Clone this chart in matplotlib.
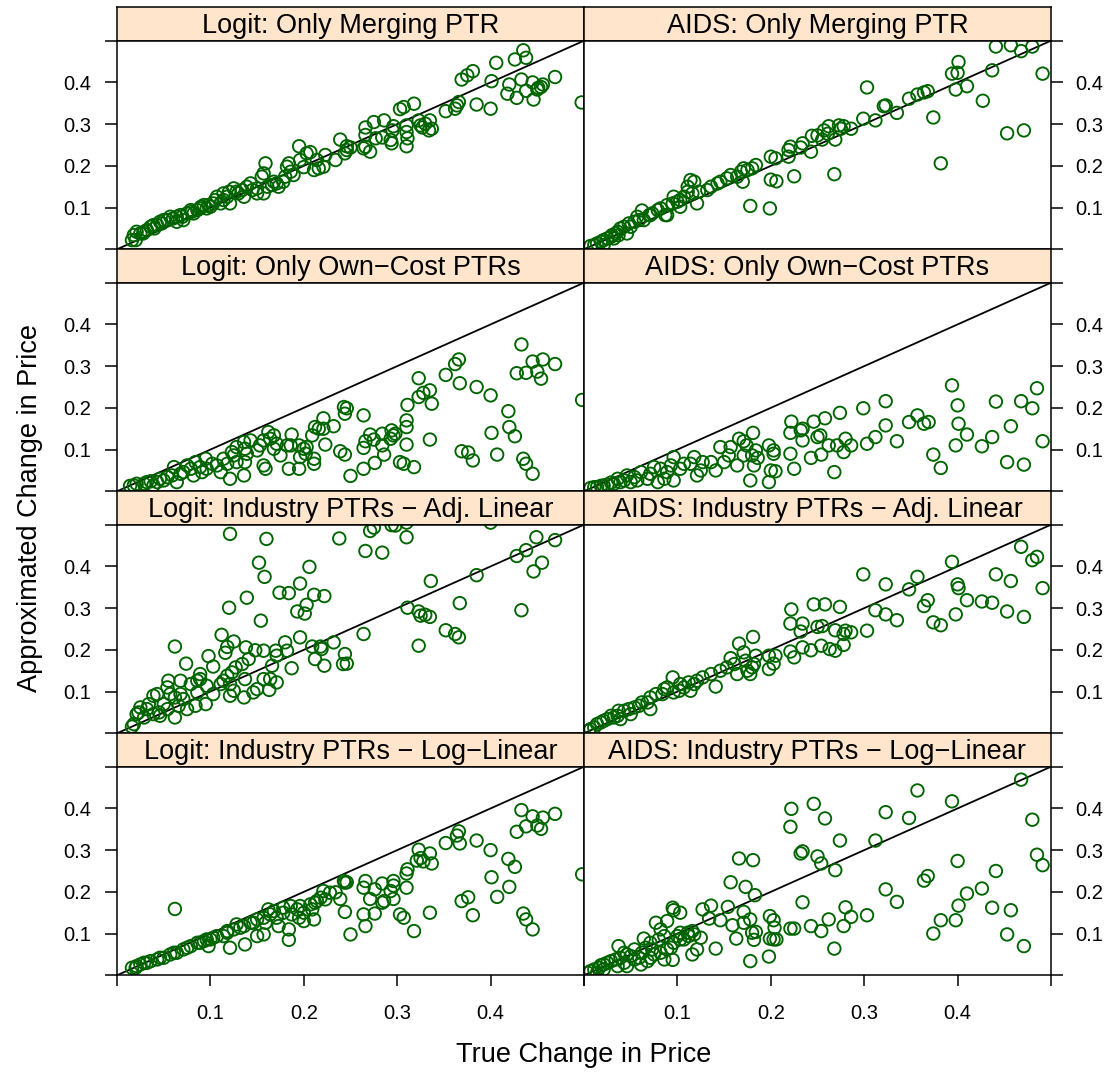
import matplotlib
matplotlib.use("Agg")
import matplotlib.pyplot as plt

plt.rcParams['font.family'] = ['Liberation Sans', 'DejaVu Sans']

# ---------------- data: (true change, approximated change) ----------------
logit_merging = [
    (0.435,0.477),(0.438,0.459),(0.426,0.455),(0.406,0.447),(0.381,0.427),(0.375,0.417),(0.369,0.407),
    (0.401,0.403),(0.469,0.413),(0.433,0.407),(0.420,0.395),(0.445,0.400),(0.456,0.395),(0.451,0.387),
    (0.454,0.389),(0.418,0.373),(0.428,0.363),(0.438,0.380),(0.446,0.359),(0.450,0.383),(0.4975,0.352),
    (0.385,0.347),(0.400,0.337),(0.366,0.353),(0.364,0.345),(0.362,0.337),(0.352,0.331),(0.318,0.349),
    (0.307,0.341),(0.303,0.336),(0.323,0.309),(0.325,0.297),(0.327,0.292),(0.335,0.309),(0.337,0.289),
    (0.330,0.301),(0.334,0.285),(0.310,0.297),(0.310,0.281),(0.311,0.266),(0.310,0.247),(0.296,0.295),
    (0.295,0.285),(0.293,0.262),(0.294,0.254),(0.286,0.309),(0.275,0.305),(0.266,0.292),(0.266,0.274),
    (0.277,0.266),(0.284,0.268),(0.264,0.242),(0.271,0.234),(0.266,0.246),(0.239,0.263),(0.246,0.247),
    (0.250,0.244),(0.244,0.230),(0.246,0.238),(0.234,0.214),(0.223,0.226),(0.214,0.214),(0.216,0.194),
    (0.221,0.198),(0.211,0.190),(0.203,0.230),(0.195,0.247),(0.207,0.233),(0.200,0.197),(0.196,0.214),
    (0.184,0.206),(0.182,0.198),(0.186,0.186),(0.189,0.178),(0.180,0.174),(0.159,0.206),(0.157,0.182),
    (0.155,0.174),(0.178,0.162),(0.171,0.158),(0.166,0.154),(0.161,0.150),(0.150,0.146),(0.143,0.158),
    (0.139,0.150),(0.134,0.142),(0.128,0.138),(0.125,0.146),(0.120,0.138),(0.114,0.134),(0.114,0.118),
    (0.121,0.110),(0.111,0.110),(0.103,0.110),(0.100,0.102),(0.093,0.106),(0.089,0.098),(0.086,0.094),
    (0.079,0.094),(0.075,0.086),(0.068,0.082),(0.064,0.078),(0.057,0.078),(0.054,0.070),(0.050,0.070),
    (0.046,0.066),(0.043,0.058),(0.039,0.058),(0.036,0.054),(0.032,0.046),(0.029,0.042),(0.025,0.038),
    (0.021,0.042),(0.018,0.034),(0.016,0.022),(0.020,0.022),(0.064,0.066),(0.071,0.070),(0.082,0.086),
    (0.096,0.098),(0.107,0.126),(0.136,0.126),(0.150,0.134),(0.157,0.134),(0.168,0.162),(0.173,0.150),
    (0.105,0.118),(0.118,0.126),(0.130,0.134),(0.145,0.142),(0.060,0.074),(0.070,0.078),(0.080,0.090),
    (0.090,0.102),(0.098,0.106),(0.040,0.050),(0.048,0.062),(0.028,0.038),
]

aids_merging = [
    (0.441,0.486),(0.457,0.489),(0.480,0.486),(0.468,0.475),(0.401,0.449),(0.394,0.421),(0.400,0.423),
    (0.437,0.429),(0.491,0.421),(0.398,0.383),(0.410,0.391),(0.427,0.356),(0.303,0.388),(0.368,0.379),
    (0.364,0.376),(0.357,0.371),(0.348,0.361),(0.323,0.345),(0.321,0.343),(0.335,0.327),(0.374,0.316),
    (0.312,0.309),(0.299,0.313),(0.453,0.278),(0.471,0.285),(0.382,0.206),(0.286,0.289),(0.278,0.295),
    (0.275,0.289),(0.273,0.297),(0.262,0.295),(0.257,0.285),(0.261,0.277),(0.255,0.263),(0.250,0.273),
    (0.244,0.272),(0.269,0.263),(0.234,0.254),(0.232,0.244),(0.221,0.246),(0.219,0.238),(0.243,0.234),
    (0.219,0.222),(0.200,0.222),(0.205,0.218),(0.225,0.175),(0.268,0.180),(0.200,0.167),(0.206,0.163),
    (0.178,0.104),(0.199,0.098),(0.184,0.202),(0.180,0.194),(0.175,0.190),(0.171,0.194),(0.168,0.186),
    (0.170,0.162),(0.164,0.174),(0.157,0.178),(0.153,0.170),(0.146,0.162),(0.143,0.158),(0.136,0.150),
    (0.132,0.142),(0.123,0.138),(0.118,0.162),(0.111,0.150),(0.116,0.134),(0.121,0.110),(0.107,0.126),
    (0.103,0.118),(0.100,0.114),(0.095,0.110),(0.089,0.106),(0.087,0.082),(0.082,0.098),(0.079,0.094),
    (0.073,0.086),(0.070,0.082),(0.062,0.093),(0.064,0.070),(0.059,0.070),(0.054,0.066),(0.048,0.062),
    (0.046,0.038),(0.043,0.054),(0.039,0.050),(0.036,0.042),(0.034,0.038),(0.037,0.034),(0.030,0.034),
    (0.029,0.030),(0.025,0.026),(0.021,0.022),(0.018,0.018),(0.014,0.014),(0.011,0.010),(0.007,0.008),
    (0.021,0.010),(0.032,0.026),(0.050,0.054),(0.057,0.078),(0.096,0.126),(0.103,0.102),(0.089,0.082),
    (0.071,0.082),(0.111,0.138),(0.114,0.166),
]

logit_owncost = [
    (0.433,0.352),(0.445,0.311),(0.456,0.316),(0.469,0.305),(0.428,0.283),(0.438,0.284),(0.450,0.287),
    (0.454,0.270),(0.366,0.316),(0.362,0.305),(0.352,0.279),(0.367,0.259),(0.385,0.250),(0.400,0.230),
    (0.323,0.271),(0.335,0.242),(0.328,0.236),(0.323,0.226),(0.337,0.210),(0.311,0.207),(0.498,0.219),
    (0.419,0.192),(0.420,0.154),(0.426,0.132),(0.401,0.140),(0.407,0.088),(0.435,0.078),(0.438,0.066),
    (0.445,0.042),(0.369,0.096),(0.376,0.093),(0.381,0.074),(0.335,0.124),(0.310,0.170),(0.310,0.154),
    (0.310,0.112),(0.303,0.070),(0.307,0.066),(0.318,0.058),(0.264,0.182),(0.243,0.202),(0.246,0.199),
    (0.244,0.186),(0.221,0.175),(0.212,0.154),(0.216,0.150),(0.232,0.156),(0.221,0.150),(0.209,0.134),
    (0.223,0.112),(0.203,0.106),(0.271,0.136),(0.275,0.124),(0.266,0.120),(0.264,0.104),(0.284,0.138),
    (0.294,0.146),(0.296,0.134),(0.293,0.126),(0.298,0.138),(0.284,0.110),(0.286,0.088),(0.239,0.096),
    (0.244,0.088),(0.250,0.037),(0.264,0.054),(0.276,0.068),(0.187,0.136),(0.186,0.110),(0.182,0.110),
    (0.175,0.086),(0.184,0.054),(0.196,0.082),(0.195,0.054),(0.211,0.066),(0.211,0.078),(0.202,0.090),
    (0.200,0.102),(0.195,0.110),(0.168,0.134),(0.164,0.126),(0.171,0.114),(0.157,0.122),(0.153,0.110),
    (0.150,0.098),(0.159,0.054),(0.143,0.122),(0.136,0.118),(0.137,0.102),(0.139,0.090),(0.137,0.070),
    (0.136,0.038),(0.121,0.030),(0.125,0.086),(0.118,0.066),(0.111,0.046),(0.114,0.078),(0.107,0.062),
    (0.102,0.066),(0.096,0.054),(0.095,0.078),(0.089,0.058),(0.084,0.070),(0.079,0.054),(0.075,0.062),
    (0.071,0.046),(0.068,0.042),(0.061,0.058),(0.059,0.038),(0.054,0.034),(0.050,0.026),(0.046,0.030),
    (0.043,0.022),(0.036,0.024),(0.032,0.022),(0.029,0.018),(0.021,0.018),(0.018,0.014),(0.014,0.013),
    (0.162,0.142),(0.157,0.062),(0.168,0.102),(0.128,0.070),(0.123,0.094),(0.128,0.106),(0.091,0.046),
    (0.082,0.038),(0.064,0.022),(0.039,0.014),
]

aids_owncost = [
    (0.394,0.254),(0.485,0.247),(0.323,0.216),(0.400,0.206),(0.441,0.215),(0.468,0.216),(0.480,0.199),
    (0.299,0.199),(0.274,0.188),(0.357,0.182),(0.348,0.166),(0.364,0.162),(0.369,0.166),(0.323,0.158),
    (0.401,0.162),(0.410,0.136),(0.457,0.156),(0.437,0.130),(0.426,0.108),(0.491,0.120),(0.398,0.110),
    (0.374,0.088),(0.382,0.056),(0.453,0.070),(0.471,0.064),(0.335,0.120),(0.312,0.130),(0.303,0.114),
    (0.222,0.167),(0.246,0.167),(0.258,0.175),(0.234,0.150),(0.232,0.146),(0.221,0.140),(0.234,0.122),
    (0.250,0.130),(0.253,0.134),(0.280,0.126),(0.271,0.110),(0.286,0.110),(0.278,0.094),(0.262,0.110),
    (0.254,0.088),(0.243,0.080),(0.268,0.046),(0.225,0.054),(0.221,0.090),(0.181,0.140),(0.166,0.126),
    (0.171,0.120),(0.174,0.110),(0.184,0.098),(0.180,0.086),(0.186,0.080),(0.182,0.062),(0.178,0.026),
    (0.198,0.110),(0.203,0.098),(0.203,0.090),(0.200,0.050),(0.205,0.048),(0.198,0.022),(0.146,0.106),
    (0.157,0.106),(0.155,0.086),(0.164,0.062),(0.141,0.050),(0.136,0.070),(0.127,0.070),(0.118,0.082),
    (0.114,0.066),(0.121,0.038),(0.107,0.066),(0.103,0.054),(0.096,0.082),(0.093,0.062),(0.089,0.046),
    (0.086,0.030),(0.082,0.054),(0.075,0.058),(0.071,0.042),(0.068,0.030),(0.061,0.046),(0.057,0.026),
    (0.054,0.034),(0.046,0.038),(0.043,0.026),(0.039,0.022),(0.036,0.030),(0.032,0.018),(0.029,0.021),
    (0.025,0.016),(0.021,0.014),(0.018,0.013),(0.014,0.010),(0.011,0.010),(0.007,0.008),(0.050,0.022),
    (0.096,0.026),(0.079,0.022),(0.125,0.050),(0.171,0.086),(0.150,0.070),
]

logit_adjlinear = [
    (0.121,0.478),(0.160,0.466),(0.238,0.467),(0.271,0.485),(0.275,0.493),(0.294,0.499),(0.298,0.498),
    (0.310,0.470),(0.266,0.437),(0.284,0.433),(0.400,0.505),(0.310,0.505),(0.152,0.409),(0.158,0.375),
    (0.206,0.399),(0.196,0.359),(0.174,0.337),(0.184,0.336),(0.139,0.325),(0.211,0.332),(0.222,0.329),
    (0.120,0.301),(0.203,0.308),(0.193,0.292),(0.201,0.287),(0.154,0.270),(0.336,0.365),(0.385,0.379),
    (0.367,0.312),(0.433,0.295),(0.428,0.425),(0.438,0.439),(0.449,0.470),(0.469,0.463),(0.446,0.388),
    (0.455,0.409),(0.311,0.301),(0.323,0.292),(0.325,0.282),(0.330,0.284),(0.335,0.279),(0.352,0.247),
    (0.362,0.238),(0.366,0.230),(0.323,0.210),(0.264,0.238),(0.232,0.218),(0.218,0.208),(0.219,0.202),
    (0.209,0.208),(0.212,0.178),(0.222,0.162),(0.244,0.190),(0.246,0.167),(0.242,0.166),(0.196,0.230),
    (0.180,0.218),(0.182,0.198),(0.170,0.198),(0.171,0.186),(0.187,0.156),(0.166,0.162),(0.157,0.198),
    (0.148,0.199),(0.138,0.206),(0.125,0.220),(0.118,0.207),(0.116,0.193),(0.112,0.236),(0.098,0.185),
    (0.103,0.160),(0.074,0.167),(0.062,0.208),(0.141,0.178),(0.134,0.166),(0.127,0.158),(0.123,0.146),
    (0.118,0.138),(0.111,0.118),(0.114,0.126),(0.121,0.118),(0.125,0.102),(0.121,0.090),(0.136,0.086),
    (0.146,0.098),(0.150,0.106),(0.157,0.130),(0.164,0.130),(0.171,0.122),(0.163,0.104),(0.137,0.130),
    (0.089,0.142),(0.089,0.130),(0.086,0.126),(0.079,0.118),(0.068,0.126),(0.055,0.126),(0.054,0.110),
    (0.057,0.094),(0.062,0.086),(0.068,0.094),(0.071,0.082),(0.075,0.058),(0.084,0.066),(0.086,0.098),
    (0.095,0.070),(0.103,0.094),(0.096,0.114),(0.062,0.038),(0.050,0.070),(0.039,0.090),(0.043,0.094),
    (0.045,0.050),(0.046,0.042),(0.039,0.046),(0.032,0.058),(0.025,0.062),(0.023,0.050),(0.021,0.046),
    (0.029,0.038),(0.018,0.022),(0.016,0.016),(0.034,0.070),(0.054,0.058),(0.066,0.066),
]

aids_adjlinear = [
    (0.468,0.447),(0.480,0.415),(0.485,0.423),(0.394,0.411),(0.299,0.381),(0.323,0.357),(0.357,0.375),
    (0.348,0.345),(0.441,0.381),(0.457,0.365),(0.400,0.357),(0.401,0.348),(0.491,0.348),(0.410,0.319),
    (0.426,0.316),(0.437,0.313),(0.368,0.319),(0.364,0.305),(0.453,0.292),(0.471,0.279),(0.398,0.285),
    (0.374,0.266),(0.382,0.259),(0.312,0.295),(0.323,0.285),(0.335,0.271),(0.303,0.246),(0.222,0.297),
    (0.246,0.309),(0.258,0.309),(0.274,0.303),(0.221,0.263),(0.234,0.263),(0.232,0.244),(0.250,0.255),
    (0.255,0.257),(0.269,0.247),(0.280,0.246),(0.286,0.242),(0.278,0.238),(0.234,0.206),(0.243,0.199),
    (0.254,0.210),(0.263,0.202),(0.269,0.198),(0.278,0.212),(0.221,0.196),(0.225,0.182),(0.181,0.231),
    (0.166,0.215),(0.171,0.194),(0.157,0.180),(0.173,0.174),(0.182,0.166),(0.184,0.186),(0.178,0.142),
    (0.164,0.142),(0.198,0.186),(0.205,0.186),(0.203,0.167),(0.198,0.154),(0.180,0.158),(0.175,0.150),
    (0.141,0.112),(0.153,0.158),(0.146,0.150),(0.136,0.142),(0.127,0.134),(0.118,0.118),(0.112,0.122),
    (0.107,0.110),(0.103,0.118),(0.095,0.134),(0.102,0.102),(0.096,0.098),(0.089,0.110),(0.084,0.094),
    (0.086,0.106),(0.077,0.094),(0.071,0.086),(0.068,0.074),(0.062,0.074),(0.059,0.066),(0.054,0.062),
    (0.048,0.058),(0.043,0.054),(0.037,0.054),(0.036,0.042),(0.032,0.038),(0.029,0.042),(0.025,0.034),
    (0.021,0.030),(0.018,0.026),(0.014,0.022),(0.011,0.014),(0.007,0.010),(0.005,0.006),(0.039,0.034),
    (0.050,0.046),(0.071,0.058),(0.114,0.102),(0.121,0.126),(0.161,0.166),
]

logit_loglinear = [
    (0.433,0.396),(0.445,0.381),(0.456,0.378),(0.469,0.387),(0.428,0.344),(0.438,0.357),(0.450,0.359),
    (0.454,0.351),(0.366,0.345),(0.364,0.335),(0.367,0.316),(0.352,0.317),(0.385,0.323),(0.400,0.300),
    (0.498,0.242),(0.419,0.279),(0.426,0.260),(0.401,0.235),(0.420,0.212),(0.407,0.188),(0.323,0.301),
    (0.335,0.292),(0.325,0.281),(0.321,0.275),(0.337,0.268),(0.328,0.273),(0.369,0.178),(0.376,0.187),
    (0.381,0.144),(0.435,0.148),(0.438,0.134),(0.445,0.110),(0.335,0.150),(0.311,0.254),(0.310,0.244),
    (0.310,0.210),(0.303,0.146),(0.307,0.138),(0.318,0.106),(0.296,0.226),(0.296,0.215),(0.293,0.202),
    (0.284,0.220),(0.276,0.206),(0.266,0.226),(0.264,0.210),(0.271,0.183),(0.286,0.178),(0.296,0.183),
    (0.284,0.174),(0.276,0.148),(0.264,0.146),(0.266,0.118),(0.250,0.098),(0.244,0.152),(0.239,0.183),
    (0.243,0.226),(0.246,0.223),(0.234,0.199),(0.221,0.202),(0.218,0.186),(0.212,0.174),(0.223,0.182),
    (0.062,0.159),(0.184,0.110),(0.184,0.085),(0.173,0.118),(0.157,0.098),(0.150,0.094),(0.137,0.074),
    (0.121,0.066),(0.096,0.086),(0.098,0.070),(0.211,0.134),(0.200,0.130),(0.193,0.158),(0.187,0.146),
    (0.178,0.150),(0.168,0.154),(0.162,0.158),(0.171,0.138),(0.159,0.126),(0.150,0.134),(0.143,0.126),
    (0.136,0.118),(0.128,0.122),(0.125,0.110),(0.118,0.102),(0.114,0.094),(0.107,0.094),(0.100,0.086),
    (0.093,0.082),(0.086,0.078),(0.079,0.070),(0.071,0.062),(0.064,0.054),(0.057,0.050),(0.050,0.042),
    (0.043,0.038),(0.036,0.034),(0.029,0.030),(0.021,0.022),(0.016,0.018),(0.020,0.018),(0.025,0.026),
    (0.032,0.030),(0.046,0.042),(0.061,0.054),(0.075,0.066),(0.089,0.078),(0.103,0.090),(0.118,0.106),
    (0.132,0.114),(0.146,0.126),(0.157,0.138),(0.164,0.146),(0.178,0.162),(0.186,0.166),(0.196,0.166),
    (0.207,0.170),(0.214,0.178),(0.200,0.150),(0.209,0.158),(0.195,0.138),(0.228,0.198),(0.244,0.222),
]

aids_loglinear = [
    (0.468,0.469),(0.357,0.443),(0.394,0.417),(0.222,0.399),(0.246,0.411),(0.258,0.376),(0.221,0.356),
    (0.323,0.391),(0.348,0.377),(0.480,0.373),(0.274,0.323),(0.312,0.323),(0.234,0.297),(0.232,0.292),
    (0.250,0.285),(0.254,0.268),(0.269,0.252),(0.166,0.280),(0.181,0.276),(0.485,0.289),(0.491,0.264),
    (0.400,0.274),(0.441,0.250),(0.368,0.238),(0.364,0.227),(0.157,0.223),(0.173,0.212),(0.183,0.192),
    (0.323,0.206),(0.335,0.176),(0.410,0.196),(0.426,0.208),(0.401,0.167),(0.437,0.162),(0.457,0.156),
    (0.234,0.175),(0.280,0.163),(0.286,0.140),(0.303,0.144),(0.262,0.134),(0.278,0.118),(0.254,0.106),
    (0.243,0.118),(0.268,0.064),(0.382,0.132),(0.374,0.100),(0.398,0.132),(0.453,0.098),(0.471,0.070),
    (0.221,0.112),(0.225,0.112),(0.199,0.142),(0.203,0.132),(0.204,0.114),(0.203,0.086),(0.206,0.086),
    (0.199,0.088),(0.198,0.045),(0.178,0.034),(0.171,0.152),(0.178,0.134),(0.171,0.126),(0.159,0.120),
    (0.180,0.102),(0.184,0.104),(0.182,0.085),(0.163,0.088),(0.141,0.064),(0.136,0.167),(0.127,0.158),
    (0.154,0.164),(0.134,0.136),(0.146,0.132),(0.116,0.106),(0.118,0.098),(0.125,0.090),(0.121,0.062),
    (0.116,0.050),(0.095,0.162),(0.096,0.156),(0.103,0.150),(0.089,0.130),(0.077,0.126),(0.082,0.110),
    (0.086,0.094),(0.080,0.086),(0.064,0.088),(0.071,0.078),(0.073,0.062),(0.066,0.066),(0.089,0.062),
    (0.086,0.038),(0.095,0.037),(0.096,0.078),(0.107,0.086),(0.112,0.094),(0.103,0.102),(0.037,0.070),
    (0.043,0.054),(0.046,0.050),(0.050,0.046),(0.054,0.038),(0.039,0.042),(0.034,0.038),(0.029,0.034),
    (0.025,0.030),(0.021,0.026),(0.018,0.024),(0.016,0.018),(0.011,0.014),(0.007,0.010),(0.004,0.006),
    (0.046,0.022),(0.043,0.030),(0.036,0.022),(0.059,0.042),(0.062,0.054),(0.068,0.034),(0.071,0.042),
    (0.075,0.050),(0.082,0.054),(0.093,0.066),(0.100,0.094),(0.111,0.102),(0.103,0.086),(0.061,0.026),
    (0.054,0.062),(0.021,0.014),(0.014,0.006),
]

panel_titles = [
    ["Logit: Only Merging PTR", "AIDS: Only Merging PTR"],
    ["Logit: Only Own\u2212Cost PTRs", "AIDS: Only Own\u2212Cost PTRs"],
    ["Logit: Industry PTRs \u2212 Adj. Linear", "AIDS: Industry PTRs \u2212 Adj. Linear"],
    ["Logit: Industry PTRs \u2212 Log\u2212Linear", "AIDS: Industry PTRs \u2212 Log\u2212Linear"],
]
panel_data = [
    [logit_merging, aids_merging],
    [logit_owncost, aids_owncost],
    [logit_adjlinear, aids_adjlinear],
    [logit_loglinear, aids_loglinear],
]
tick_values = [0.0, 0.1, 0.2, 0.3, 0.4, 0.5]
tick_labels = ["", "0.1", "0.2", "0.3", "0.4", ""]
x_label = "True Change in Price"
y_label = "Approximated Change in Price"

# ---------------- layout ----------------
W, H = 1117, 1072
fig = plt.figure(figsize=(W / 100, H / 100), dpi=100)


def rect(x0, y0, x1, y1):
    return [x0 / W, 1 - y1 / H, (x1 - x0) / W, (y1 - y0) / H]


col_edges = [(117, 584), (584, 1051)]
pt_color = "#006400"
strip_color = "#FFE5CC"

for r in range(4):
    strip_top = 7.3 + 242 * r
    panel_top = 40.7 + 242 * r
    panel_bot = 249.3 + 242 * r
    for c in range(2):
        x0, x1 = col_edges[c]
        # strip
        sax = fig.add_axes(rect(x0, strip_top, x1, panel_top))
        sax.set_facecolor(strip_color)
        sax.set_xticks([])
        sax.set_yticks([])
        for s in sax.spines.values():
            s.set_linewidth(1.1)
            s.set_color("black")
        sax.text(0.5, 0.45, panel_titles[r][c], ha="center", va="center",
                 fontsize=19.5, transform=sax.transAxes)

        ax = fig.add_axes(rect(x0, panel_top, x1, panel_bot))
        pts = panel_data[r][c]
        xs = [p[0] for p in pts]
        ys = [p[1] for p in pts]
        ax.plot([0, 0.5], [0, 0.5], color="black", lw=1.3, zorder=1)
        ax.scatter(xs, ys, s=9.0 ** 2, facecolors="none", edgecolors=pt_color,
                   linewidths=1.35, zorder=2)
        ax.set_xlim(0, 0.5)
        ax.set_ylim(0, 0.5)
        for s in ax.spines.values():
            s.set_linewidth(1.1)
            s.set_color("black")

        ax.set_yticks(tick_values)
        ax.set_yticklabels(tick_labels)
        if c == 0:
            ax.tick_params(axis="y", left=True, right=False, labelleft=True,
                           labelright=False, direction="out", length=8.6,
                           width=1.1, pad=10, labelsize=14.5)
        else:
            ax.tick_params(axis="y", left=False, right=True, labelleft=False,
                           labelright=True, direction="out", length=8.6,
                           width=1.1, pad=9, labelsize=14.5)

        ax.set_xticks(tick_values)
        ax.set_xticklabels(tick_labels)
        if r == 3:
            ax.tick_params(axis="x", bottom=True, labelbottom=True, direction="out",
                           length=8.0, width=1.1, pad=13, labelsize=14.5)
        else:
            ax.tick_params(axis="x", bottom=False, labelbottom=False)

fig.text(584 / W, 1 - 1055 / H, x_label, ha="center", va="center", fontsize=19.5)
fig.text(30 / W, 1 - 508 / H, y_label, ha="center", va="center", rotation=90,
         fontsize=19.5)

fig.savefig("out.png", dpi=100, facecolor="white")
